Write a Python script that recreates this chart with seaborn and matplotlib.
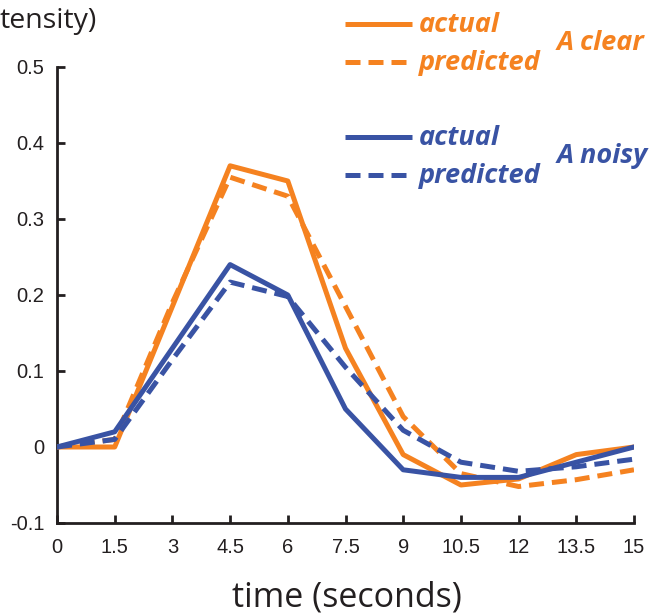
import numpy as np
import pandas as pd
import matplotlib
matplotlib.use("Agg")
import matplotlib.pyplot as plt
from matplotlib.lines import Line2D
import seaborn as sns

# ---- data ----
time = [0, 1.5, 3, 4.5, 6, 7.5, 9, 10.5, 12, 13.5, 15]
clear_actual    = [0, 0, 0.185, 0.37, 0.35, 0.13, -0.01, -0.05, -0.042, -0.01, 0]
clear_predicted = [0, 0.01, 0.19, 0.355, 0.33, 0.185, 0.04, -0.035, -0.052, -0.043, -0.03]
noisy_actual    = [0, 0.02, 0.13, 0.24, 0.20, 0.05, -0.03, -0.04, -0.04, -0.02, 0]
noisy_predicted = [0, 0.01, 0.115, 0.217, 0.198, 0.105, 0.022, -0.02, -0.032, -0.026, -0.016]
conditions = ["A clear", "A noisy"]
kinds = ["actual", "predicted"]
xticks = [0, 1.5, 3, 4.5, 6, 7.5, 9, 10.5, 12, 13.5, 15]
xtick_labels = ["0", "1.5", "3", "4.5", "6", "7.5", "9", "10.5", "12", "13.5", "15"]
yticks = [-0.1, 0, 0.1, 0.2, 0.3, 0.4, 0.5]
ytick_labels = ["-0.1", "0", "0.1", "0.2", "0.3", "0.4", "0.5"]

ORANGE = "#F58220"
BLUE = "#3953A4"

rows = []
for cond, kind, vals in [("A clear", "actual", clear_actual),
                         ("A clear", "predicted", clear_predicted),
                         ("A noisy", "actual", noisy_actual),
                         ("A noisy", "predicted", noisy_predicted)]:
    for t, v in zip(time, vals):
        rows.append({"time": t, "value": v, "condition": cond, "kind": kind})
df = pd.DataFrame(rows)

sns.set_style("ticks")
plt.rcParams['font.family'] = ['Liberation Sans', 'DejaVu Sans']

fig = plt.figure(figsize=(6.55, 6.14), dpi=100)
ax = fig.add_axes([57/655, 1-523/614, (634-57)/655, (523-67)/614])

LW = 3.6
sns.lineplot(data=df, x="time", y="value", hue="condition", style="kind",
             palette={"A clear": ORANGE, "A noisy": BLUE},
             dashes={"actual": "", "predicted": (3, 1.6)},
             linewidth=LW, ax=ax, legend=False, zorder=3)
ax.set_xlim(0, 15)
ax.set_ylim(-0.1, 0.5)
ax.set_xticks(xticks)
ax.set_xticklabels(xtick_labels)
ax.set_yticks(yticks)
ax.set_yticklabels(ytick_labels)
ax.tick_params(direction="in", length=6, width=2, colors="#231F20",
               labelsize=14.5, pad=9)
ax.tick_params(axis="x", pad=11)
for s in ["top", "right"]:
    ax.spines[s].set_visible(False)
for s in ["left", "bottom"]:
    ax.spines[s].set_linewidth(2)
    ax.spines[s].set_color("#231F20")
ax.set_xlabel("")
ax.set_ylabel("")

fig.text(347/655, 1-597/614, "time (seconds)", ha="center", va="center",
         fontsize=24.5, family=["Open Sans", "DejaVu Sans"], color="#231F20")
fig.text(97/655, 1-21/614, "tensity)", ha="right", va="center",
         fontsize=20.5, family=["Open Sans", "DejaVu Sans"], color="#231F20")

# custom legend
def legline(y, color, dashed):
    ln = Line2D([345/655, 412/655], [1-y/614, 1-y/614], transform=fig.transFigure,
                color=color, linewidth=LW, solid_capstyle="butt", dash_capstyle="butt")
    if dashed:
        ln.set_dashes((3, 1.6))
    fig.add_artist(ln)

lfont = dict(family=["Open Sans", "DejaVu Sans"], style="italic", weight="bold",
             fontsize=19.5)
for (ya, yp, yl, color, cond) in [(24, 62, 43, ORANGE, "A clear"),
                                  (137, 175, 156, BLUE, "A noisy")]:
    legline(ya, color, False)
    legline(yp, color, True)
    fig.text(419/655, 1-(ya+1)/614, kinds[0], color=color, ha="left", va="center", **lfont)
    fig.text(419/655, 1-(yp+1)/614, kinds[1], color=color, ha="left", va="center", **lfont)
    fig.text(557/655, 1-yl/614, cond, color=color, ha="left", va="center", **lfont)

fig.savefig("out.png", dpi=100)
